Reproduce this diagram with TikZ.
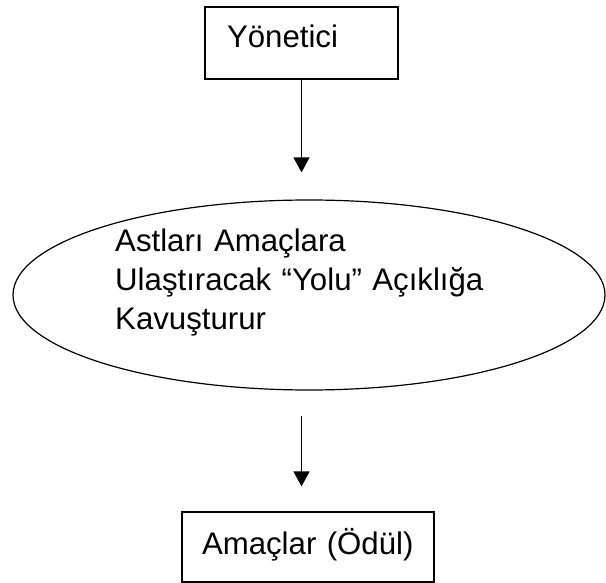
\documentclass[tikz,border=0pt]{standalone}
\usepackage{fontspec}
\setmainfont{Liberation Sans}
\usetikzlibrary{shapes.geometric,arrows.meta}

\begin{document}
\begin{tikzpicture}[x=1pt, y=-1pt,
  every node/.style={font=\fontsize{31.2}{39}\selectfont},
  kutu/.style={draw, black, line width=1.2pt, rectangle, inner ysep=0pt, align=left},
  ok/.style={black, line width=1.3pt, -{Triangle[width=16pt,length=15pt]}}]

% page frame
\useasboundingbox (0,0) rectangle (606,583);

% boxes and the ellipse
\node[kutu, inner xsep=22pt, text width=149pt, text height=40.5pt, text depth=31.5pt] (yonetici) at (301.5,43) {Yönetici};
\node[draw, ellipse, line width=1.2pt, minimum width=592pt, minimum height=190pt] (yol) at (309,295) {};
\node[anchor=north west, inner sep=0pt, text width=400pt, align=left] (yoltext) at (115,229) {Astları Amaçlara\\Ulaştıracak “Yolu” Açıklığa\\Kavuşturur};
\node[kutu, inner xsep=20pt, text width=212pt, text height=42pt, text depth=28pt] (amac) at (308,547) {Amaçlar (Ödül)};

% arrows
\draw[ok, shorten >=27pt] (yonetici.south) -- (yonetici.south |- yol.north);
\draw[ok, shorten <=25pt, shorten >=25pt] (yonetici.south |- yol.south) -- (yonetici.south |- amac.north);

\end{tikzpicture}
\end{document}
